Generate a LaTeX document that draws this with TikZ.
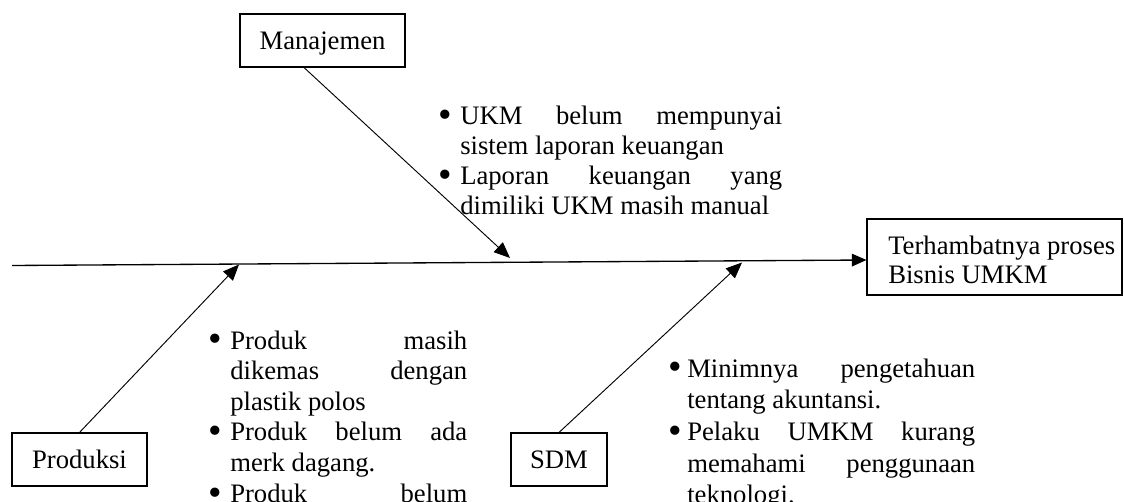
\documentclass[tikz,border=0pt]{standalone}
\usepackage{fontspec}
\setmainfont{Liberation Serif}
\usetikzlibrary{arrows.meta,calc}
\newcommand{\blt}[1]{\makebox[#1][l]{\raisebox{-2.2pt}{\scalebox{1.45}{\textbullet}}}}
\begin{document}
\begin{tikzpicture}[x=0.75pt,y=-0.75pt,
  box/.style={draw, line width=0.8pt, inner sep=0pt, text height=13.5pt, text depth=0pt, font=\fontsize{20}{23}\selectfont},
  txt/.style={inner sep=0pt, anchor=base west},
  arr/.style={-{Triangle[length=12pt,width=10pt]}, line width=0.7pt},
  spine/.style={-{Triangle[length=11pt,width=9.5pt]}, line width=1pt}]
\useasboundingbox (0,0) rectangle (1124,502);
\clip (0,0) rectangle (1124,502);

% boxes
\node[box, minimum width=123.75pt, minimum height=39.75pt] (mgmt) at (322.5,40.5) {Manajemen};
\node[box, minimum width=101.25pt, minimum height=39.75pt] (prod) at (79.5,459.5) {Produksi};
\node[box, minimum width=72pt, minimum height=39.75pt] (sdm) at (559,459.5) {SDM};
\node[box, minimum width=191.25pt, minimum height=57pt] (goal) at (994.5,257) {};
\node[txt, font=\fontsize{20}{21.4}\selectfont] (goaltxt) at (888,255)
  {\begin{tabular}[t]{@{}l@{}}Terhambatnya proses\\Bisnis UMKM\end{tabular}};

% cause lists
\node[txt, font=\fontsize{20}{22.5}\selectfont] (mlist) at (438,125)
  {\begin{tabular}[t]{@{}l@{}}
  \blt{16.5pt}\makebox[241.5pt][s]{UKM belum mempunyai}\\
  \hspace*{16.5pt}sistem laporan keuangan\\
  \blt{16.5pt}\makebox[241.5pt][s]{Laporan keuangan yang}\\
  \hspace*{16.5pt}dimiliki UKM masih manual
  \end{tabular}};

\node[txt, font=\fontsize{20}{23}\selectfont] (plist) at (208,349)
  {\begin{tabular}[t]{@{}l@{}}
  \blt{16.5pt}\makebox[177.75pt][s]{Produk masih}\\
  \hspace*{16.5pt}\makebox[177.75pt][s]{dikemas dengan}\\
  \hspace*{16.5pt}plastik polos\\
  \blt{16.5pt}\makebox[177.75pt][s]{Produk belum ada}\\
  \hspace*{16.5pt}merk dagang.\\
  \blt{16.5pt}\makebox[177.75pt][s]{Produk belum}
  \end{tabular}};

\node[txt, font=\fontsize{20}{23.8}\selectfont] (slist) at (668,377)
  {\begin{tabular}[t]{@{}l@{}}
  \blt{14.25pt}\makebox[216pt][s]{Minimnya pengetahuan}\\
  \hspace*{14.25pt}tentang akuntansi.\\
  \blt{14.25pt}\makebox[216pt][s]{Pelaku UMKM kurang}\\
  \hspace*{14.25pt}\makebox[216pt][s]{memahami penggunaan}\\
  \hspace*{14.25pt}teknologi.
  \end{tabular}};

% connectors
\coordinate (tail) at (12,265.5);
\coordinate (mhit) at (510,258);
\coordinate (phit) at (239,264.5);
\coordinate (shit) at (742,262.5);
\draw[spine] (tail) -- ([yshift=-2.25pt]goal.west);
\draw[arr] ($(mgmt.south)+(-18.5,0)$) -- (mhit);
\draw[arr] (prod.north) -- (phit);
\draw[arr] (sdm.north) -- (shit);
\end{tikzpicture}
\end{document}
